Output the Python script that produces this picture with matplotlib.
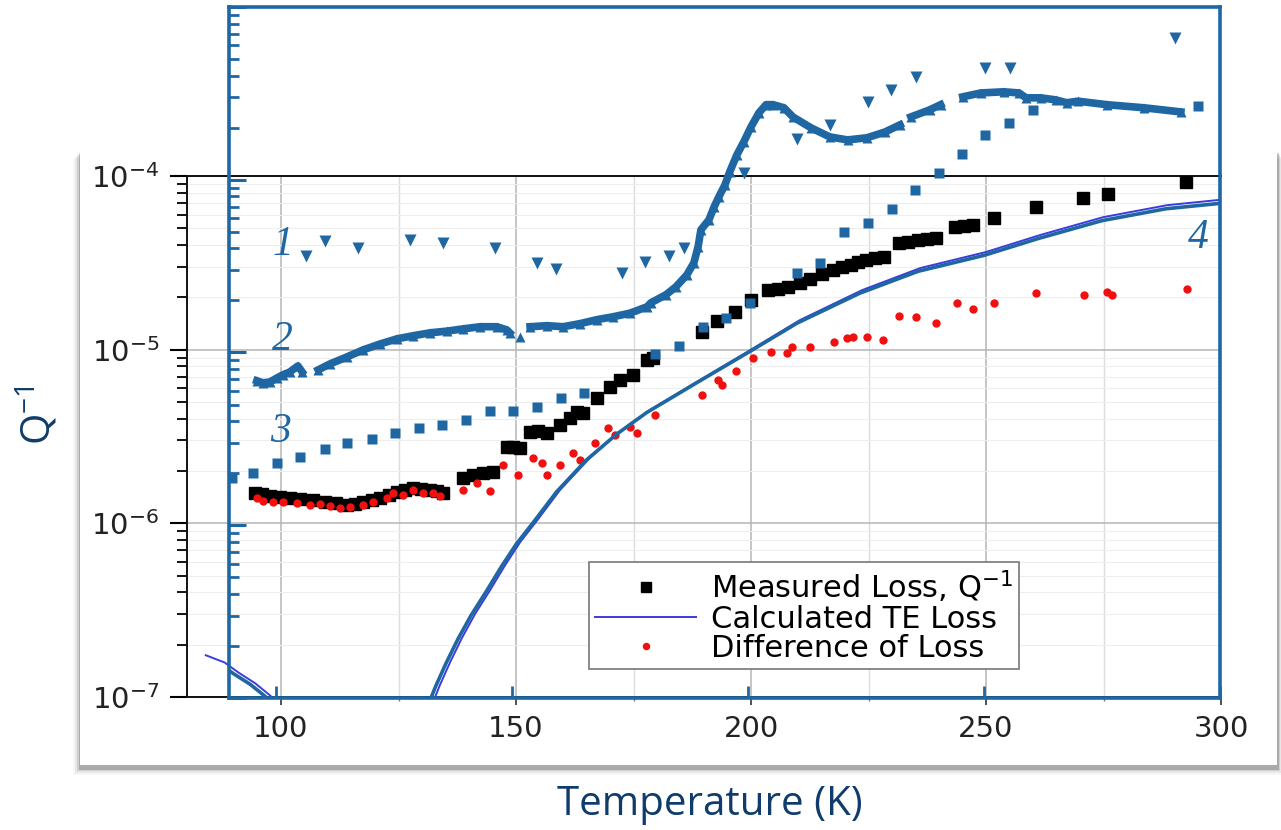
import numpy as np
import matplotlib.pyplot as plt
from matplotlib.patches import Rectangle
from matplotlib.ticker import LogLocator, NullFormatter, FixedLocator

plt.rcParams['font.family'] = ['DejaVu Sans']
plt.rcParams['mathtext.fontset'] = 'custom'
plt.rcParams['mathtext.rm'] = 'Open Sans'
plt.rcParams['mathtext.sf'] = 'DejaVu Sans'

# ---- data ----
# curve 1 (down triangles)
t1 = [106.3, 110.3, 117.3, 128.3, 135.3, 146.4, 155.3, 159.3, 173.3, 178.1, 183.2,
      186.4, 199.1, 210.3, 217.3, 225.4, 230.3, 235.6, 250.2, 255.5, 290.4]
q1 = [3.6e-5, 4.4e-5, 4.0e-5, 4.5e-5, 4.3e-5, 4.0e-5, 3.3e-5, 3.05e-5, 2.9e-5, 3.35e-5, 3.6e-5,
      4.0e-5, 1.1e-4, 1.73e-4, 2.08e-4, 2.83e-4, 3.32e-4, 3.94e-4, 4.45e-4, 4.45e-4, 6.6e-4]

# curve 2 (up triangles, dense); nan marks gaps in the trace
t2 = [95.9, 97.2, 98.7, 100.2, 101.4, 102.9, 104.6, 105.5, np.nan,
      108.9, 111.4, 115.0, 118.4, 122.0, 125.6, 129.0, 132.6, 136.2, 139.6, 143.2, 146.8,
      148.9, 149.5, np.nan, 151.7, np.nan,
      153.8, 157.4, 160.8, 164.4, 168.0, 171.4, 175.0, 178.6, 179.4, 182.6, 184.7, 187.0,
      188.5, 189.4, 190.0, 191.7, 192.8, 193.8, 195.1, 196.1, 197.6, 199.1, 200.6, 202.3,
      203.8, 205.3, 207.6, 209.5, 213.3, 217.3, 221.1, 225.2, 229.0, 232.2, np.nan,
      234.5, 238.5, 240.8, np.nan,
      245.5, 249.3, 254.2, 257.4, 258.9, 262.0, 265.2, 267.5, 269.9, 276.0, 283.9, 291.7]
q2 = [6.86e-6, 6.67e-6, 6.76e-6, 7.13e-6, 7.42e-6, 7.72e-6, 8.36e-6, 7.72e-6, np.nan,
      7.93e-6, 8.59e-6, 9.43e-6, 1.035e-5, 1.12e-5, 1.20e-5, 1.25e-5, 1.30e-5, 1.33e-5, 1.37e-5,
      1.41e-5, 1.41e-5, 1.35e-5, 1.30e-5, np.nan, 1.23e-5, np.nan,
      1.41e-5, 1.43e-5, 1.41e-5, 1.47e-5, 1.55e-5, 1.61e-5, 1.69e-5, 1.84e-5, 1.94e-5, 2.16e-5,
      2.40e-5, 2.81e-5, 3.30e-5, 4.09e-5, 5.13e-5, 5.86e-5, 6.97e-5, 7.96e-5, 9.34e-5, 1.11e-4,
      1.39e-4, 1.66e-4, 2.02e-4, 2.44e-4, 2.72e-4, 2.72e-4, 2.61e-4, 2.31e-4, 2.00e-4, 1.77e-4,
      1.70e-4, 1.75e-4, 1.89e-4, 2.08e-4, np.nan,
      2.31e-4, 2.54e-4, 2.72e-4, np.nan,
      3.02e-4, 3.18e-4, 3.23e-4, 3.18e-4, 2.98e-4, 2.98e-4, 2.90e-4, 2.79e-4, 2.85e-4, 2.72e-4,
      2.61e-4, 2.47e-4]

# curve 3 (squares)
t3 = [90.6, 95.1, 100.2, 105.0, 110.3, 115.0, 120.3, 125.2, 130.3, 135.1, 140.2, 145.3,
      150.2, 155.3, 160.3, 165.2, 180.3, 185.3, 190.4, 195.3, 200.4, 210.3, 215.2, 220.3,
      225.4, 230.5, 235.3, 240.4, 245.3, 250.2, 255.3, 260.3, 295.3]
q3 = [1.88e-6, 2.01e-6, 2.29e-6, 2.49e-6, 2.77e-6, 3.00e-6, 3.16e-6, 3.42e-6, 3.66e-6, 3.81e-6,
      4.07e-6, 4.59e-6, 4.59e-6, 4.84e-6, 5.46e-6, 5.84e-6, 9.82e-6, 1.09e-5, 1.41e-5, 1.59e-5,
      1.94e-5, 2.89e-5, 3.30e-5, 4.99e-5, 5.63e-5, 6.78e-5, 8.74e-5, 1.10e-4, 1.41e-4, 1.82e-4,
      2.13e-4, 2.54e-4, 2.68e-4]

# calculated TE loss (curve 4), upper and low-temperature branches
t_te = [132.8, 133.8, 136.0, 138.5, 141.3, 144.5, 147.7, 150.9, 154.5, 159.4, 165.7, 172.1,
        178.5, 189.1, 200.0, 210.4, 223.6, 236.0, 250.0, 261.5, 274.9, 288.5, 300.0]
q_te = [1.0e-7, 1.17e-7, 1.59e-7, 2.19e-7, 3.01e-7, 4.13e-7, 5.75e-7, 7.80e-7, 1.04e-6,
        1.56e-6, 2.38e-6, 3.36e-6, 4.49e-6, 6.68e-6, 1.0e-5, 1.48e-5, 2.20e-5, 2.95e-5,
        3.65e-5, 4.57e-5, 5.79e-5, 6.79e-5, 7.3e-5]
t_te_low = [84.0, 88.0, 91.0, 94.5, 97.5, 99.5]
q_te_low = [1.74e-7, 1.58e-7, 1.38e-7, 1.20e-7, 1.03e-7, 0.92e-7]

# measured loss (black squares)
t_meas = [94.5, 96.0, 97.7, 99.8, 101.9, 104.0, 106.8, 109.4, 111.7, 114.0, 115.7, 117.4,
          119.4, 121.1, 123.0, 124.7, 126.4, 128.1, 129.8, 131.7, 133.2, 134.5, 138.7, 140.9,
          143.0, 145.1, 148.1, 149.4, 150.9, 153.0, 154.7, 156.6, 159.4, 161.5, 163.0, 164.3,
          167.2, 170.0, 172.1, 174.9, 177.9, 179.1, 189.6, 192.8, 196.6, 200.0, 203.6, 205.7,
          207.9, 210.4, 212.6, 215.1, 217.4, 219.4, 221.3, 222.8, 224.5, 226.4, 228.3, 231.5,
          233.4, 235.5, 237.4, 239.4, 243.4, 245.3, 247.2, 251.7, 260.6, 270.6, 276.0, 292.6]
q_meas = [1.49e-6, 1.48e-6, 1.44e-6, 1.42e-6, 1.40e-6, 1.38e-6, 1.36e-6, 1.33e-6, 1.31e-6,
          1.27e-6, 1.29e-6, 1.33e-6, 1.36e-6, 1.40e-6, 1.46e-6, 1.51e-6, 1.56e-6, 1.60e-6,
          1.57e-6, 1.56e-6, 1.53e-6, 1.49e-6, 1.82e-6, 1.90e-6, 1.95e-6, 1.97e-6, 2.75e-6,
          2.75e-6, 2.72e-6, 3.36e-6, 3.40e-6, 3.31e-6, 3.68e-6, 4.04e-6, 4.38e-6, 4.32e-6,
          5.26e-6, 6.10e-6, 6.68e-6, 7.14e-6, 8.71e-6, 8.95e-6, 1.26e-5, 1.46e-5, 1.64e-5,
          1.93e-5, 2.20e-5, 2.23e-5, 2.29e-5, 2.42e-5, 2.55e-5, 2.72e-5, 2.87e-5, 2.99e-5,
          3.07e-5, 3.19e-5, 3.28e-5, 3.37e-5, 3.41e-5, 4.11e-5, 4.16e-5, 4.28e-5, 4.34e-5,
          4.39e-5, 5.08e-5, 5.15e-5, 5.21e-5, 5.73e-5, 6.62e-5, 7.46e-5, 7.87e-5, 9.23e-5]

# difference of loss (red dots)
t_diff = [94.9, 96.2, 98.3, 100.4, 103.4, 106.2, 108.3, 110.4, 112.6, 114.7, 117.4, 119.6,
          122.6, 123.8, 126.0, 128.1, 130.2, 132.3, 133.8, 138.7, 141.7, 144.5, 147.2, 150.4,
          153.6, 155.5, 156.6, 159.4, 162.1, 163.6, 166.8, 169.6, 171.1, 174.3, 175.7, 179.6,
          189.6, 193.0, 193.8, 196.8, 200.4, 204.3, 207.7, 208.7, 212.6, 217.7, 220.4, 221.7,
          224.7, 228.1, 231.5, 235.1, 239.4, 243.8, 247.2, 251.7, 260.6, 270.9, 275.7, 276.8,
          292.8]
q_diff = [1.40e-6, 1.34e-6, 1.33e-6, 1.33e-6, 1.31e-6, 1.27e-6, 1.29e-6, 1.26e-6, 1.22e-6,
          1.24e-6, 1.27e-6, 1.33e-6, 1.40e-6, 1.49e-6, 1.46e-6, 1.56e-6, 1.49e-6, 1.49e-6,
          1.44e-6, 1.56e-6, 1.71e-6, 1.53e-6, 2.17e-6, 1.90e-6, 2.38e-6, 2.22e-6, 1.90e-6,
          2.17e-6, 2.54e-6, 2.31e-6, 2.90e-6, 3.54e-6, 3.22e-6, 3.58e-6, 3.31e-6, 4.21e-6,
          5.48e-6, 6.68e-6, 6.25e-6, 7.53e-6, 8.95e-6, 9.68e-6, 9.55e-6, 1.035e-5, 1.035e-5,
          1.11e-5, 1.17e-5, 1.18e-5, 1.18e-5, 1.13e-5, 1.56e-5, 1.54e-5, 1.42e-5, 1.85e-5,
          1.71e-5, 1.85e-5, 2.12e-5, 2.06e-5, 2.15e-5, 2.06e-5, 2.23e-5]

x_ticks = [100, 150, 200, 250, 300]
y_ticks = [1e-7, 1e-6, 1e-5, 1e-4]
y_tick_labels = [r'$\mathsf{10^{-7}}$', r'$\mathsf{10^{-6}}$', r'$\mathsf{10^{-5}}$', r'$\mathsf{10^{-4}}$']

BLUE = '#1f67a3'
NAVY = '#103c6b'

W, H = 1281, 830
fig = plt.figure(figsize=(W / 100, H / 100), dpi=100)
fig.patch.set_facecolor('white')


def box(x0, y0, x1, y1):
    return [x0 / W, 1 - y1 / H, (x1 - x0) / W, (y1 - y0) / H]


# slide card with a soft shadow (left, right and bottom only)
for d, a in [(7, 0.05), (5, 0.09), (3, 0.16), (1.5, 0.30)]:
    fig.add_artist(Rectangle(((80 - d) / W, 1 - (765 + 3 + d) / H), (1197 + 2 * d) / W,
                             (613 + 3) / H, transform=fig.transFigure,
                             facecolor='#555555', edgecolor='none', alpha=a, zorder=-2))
fig.add_artist(Rectangle((80 / W, 1 - 765 / H), 1197 / W, 613 / H, transform=fig.transFigure,
                         facecolor='white', edgecolor='none', zorder=-1))

# ---- black (measured) chart ----
ax = fig.add_axes(box(187, 176, 1221, 697))
ax.set_zorder(1)
ax.set_facecolor('none')
ax.set_yscale('log')
ax.set_xlim(80, 300)
ax.set_ylim(1e-7, 1e-4)
ax.set_xticks(x_ticks)
ax.set_xticklabels([str(v) for v in x_ticks], fontsize=21, color='#222222')
ax.xaxis.set_minor_locator(FixedLocator([125, 175, 225, 275]))
ax.set_yticks(y_ticks)
ax.set_yticklabels(y_tick_labels, fontsize=21, color='#222222')
ax.yaxis.set_minor_locator(LogLocator(base=10, subs=np.arange(2, 10)))
ax.yaxis.set_minor_formatter(NullFormatter())
ax.tick_params(axis='y', which='major', direction='out', length=12, width=1.5, pad=8)
ax.tick_params(axis='y', which='minor', direction='out', length=7, width=1.3)
ax.tick_params(axis='x', which='major', direction='out', length=6, width=1.2, pad=7, colors='#333333')
ax.tick_params(axis='x', which='minor', direction='out', length=3, width=1.0, colors='#777777')
ax.tick_params(axis='x', labelcolor='#222222')
ax.grid(which='major', color='#b5b5b5', lw=1.1)
ax.grid(which='minor', axis='x', color='#dcdcdc', lw=1.0)
ax.grid(which='minor', axis='y', color='#eeeeee', lw=0.8)
for s in ['left', 'top', 'bottom']:
    ax.spines[s].set_color('#111111')
    ax.spines[s].set_linewidth(1.4)
ax.spines['right'].set_visible(False)

ax.plot(t_meas, q_meas, 's', color='black', ms=8.5, label=r'Measured Loss, Q$^{\mathsf{-1}}$', zorder=3)
ax.plot(t_te, q_te, '-', color='#3b3be0', lw=1.4, label='Calculated TE Loss', zorder=4)
ax.plot(t_te_low, q_te_low, '-', color='#3b3be0', lw=1.4, zorder=4)
ax.plot(t_diff, q_diff, 'o', color='#f01010', ms=6, mec='none', label='Difference of Loss', zorder=5)

leg = ax.legend(loc='upper left', bbox_to_anchor=(589 / W, 1 - 562 / H),
                bbox_transform=fig.transFigure, fontsize=22, frameon=True, fancybox=False,
                edgecolor='#777777', framealpha=1, borderpad=0.2, labelspacing=0.0,
                handlelength=3.3, handletextpad=0.5, borderaxespad=0, markerscale=0.9)
leg.get_frame().set_linewidth(1.2)
leg.set_zorder(10)

# ---- blue overlay chart ----
axb = fig.add_axes(box(229, 7, 1220, 698))
axb.set_zorder(2)
axb.set_facecolor('none')
axb.set_yscale('log')
axb.set_xlim(90, 300)
axb.set_ylim(1e-7, 1e-3)
axb.set_xticks(x_ticks)
axb.xaxis.set_minor_locator(FixedLocator([]))
axb.yaxis.set_major_locator(LogLocator(base=10))
axb.yaxis.set_minor_locator(LogLocator(base=10, subs=np.arange(2, 10)))
axb.tick_params(axis='both', which='both', direction='in', colors=BLUE,
                labelleft=False, labelbottom=False)
axb.tick_params(axis='y', which='major', length=12, width=2.2)
axb.tick_params(axis='y', which='minor', length=7, width=2.0)
axb.tick_params(axis='x', which='major', length=9, width=2.0)
for s in axb.spines.values():
    s.set_color(BLUE)
    s.set_linewidth(2.6)

axb.plot(t_te, q_te, '-', color=BLUE, lw=2.6, zorder=2)
axb.plot(t_te_low, q_te_low, '-', color=BLUE, lw=2.6, zorder=2)
axb.plot(t3, q3, 's', color=BLUE, ms=7, mec='none', zorder=3)
axb.plot(t2, q2, '-^', color=BLUE, lw=5.5, ms=7.5, mec='none', zorder=3)
axb.plot(t1, q1, 'v', color=BLUE, ms=9, mec='none', zorder=3)

# curve numbers
for txt, px, py in [('1', 283, 245), ('2', 282, 340), ('3', 281, 432), ('4', 1198, 238)]:
    fig.text(px / W, 1 - py / H, txt, family='Liberation Serif', style='italic', fontsize=30,
             color=BLUE, ha='center', va='center', zorder=20)

fig.text(710 / W, 1 - 805 / H, 'Temperature (K)', family='Open Sans', fontsize=29,
         color=NAVY, ha='center', va='center')
fig.text(37 / W, 1 - 415 / H, r'$\mathrm{Q^{-1}}$', fontsize=29, color=NAVY,
         rotation=90, ha='center', va='center')

fig.savefig('out.png', dpi=100)
